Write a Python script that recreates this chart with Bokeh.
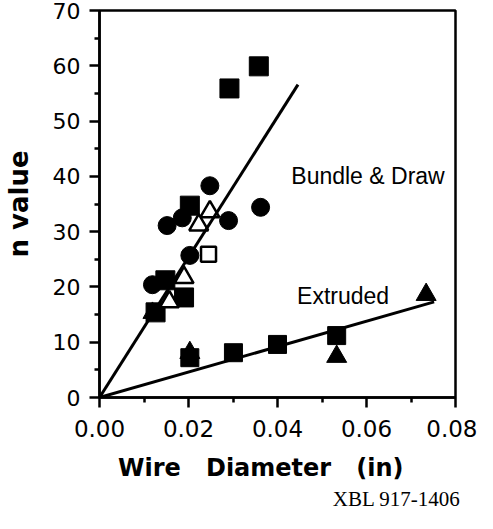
from bokeh.plotting import figure
from bokeh.models import Range1d, FixedTicker, Title
from bokeh.core.properties import value
from bokeh.embed import file_html
from bokeh.resources import INLINE

# ---- data ----
# Bundle & Draw
bd_sq_x = [0.0292, 0.0358, 0.0203, 0.0148, 0.0190, 0.0126]
bd_sq_y = [55.9, 59.9, 34.7, 21.2, 18.1, 15.4]
bd_ci_x = [0.0248, 0.0362, 0.0290, 0.0186, 0.0152, 0.0203, 0.0119]
bd_ci_y = [38.3, 34.4, 32.0, 32.5, 31.1, 25.7, 20.4]
bd_otri_x = [0.0248, 0.0223, 0.0190, 0.0157]
bd_otri_y = [33.6, 31.2, 21.7, 17.3]
bd_osq_x = [0.0245]
bd_osq_y = [25.9]
bd_tri_x = [0.0119]
bd_tri_y = [15.3]
# Extruded
ex_sq_x = [0.0203, 0.0301, 0.0400, 0.0533]
ex_sq_y = [7.2, 8.1, 9.6, 11.2]
ex_tri_x = [0.0203, 0.0533, 0.0734]
ex_tri_y = [8.1, 7.4, 18.6]
# fitted lines
bd_fit_x = [0.0, 0.0446]
bd_fit_y = [0.0, 56.6]
ex_fit_x = [0.0, 0.0752]
ex_fit_y = [0.0, 17.3]
# annotations
note_x = [0.0431, 0.0444]
note_y = [40.1, 18.4]
note_text = ["Bundle & Draw", "Extruded"]
# ticks
x_ticks = [0.0, 0.02, 0.04, 0.06, 0.08]
x_tick_labels = ["0.00", "0.02", "0.04", "0.06", "0.08"]
x_minor = [0.01, 0.03, 0.05, 0.07]
y_ticks = [0, 10, 20, 30, 40, 50, 60, 70]
y_minor = [5, 15, 25, 35, 45, 55, 65]

p = figure(width=477, height=513, output_backend="svg", toolbar_location=None,
           x_range=Range1d(0, 0.08), y_range=Range1d(0, 70),
           min_border_left=93, min_border_right=22, min_border_top=10,
           min_border_bottom=116)
p.background_fill_color = "white"
p.border_fill_color = "white"
p.xgrid.visible = False
p.ygrid.visible = False
p.outline_line_color = "black"
p.outline_line_width = 2.5

blk = "black"
p.scatter(bd_sq_x, bd_sq_y, marker="square", size=19, color=blk)
p.scatter(bd_ci_x, bd_ci_y, marker="circle", size=18, color=blk)
p.scatter(bd_tri_x, bd_tri_y, marker="triangle", size=19, color=blk)
p.scatter(bd_otri_x, bd_otri_y, marker="triangle", size=19, fill_color="white",
          line_color=blk, line_width=2.5)
p.scatter(bd_osq_x, bd_osq_y, marker="square", size=15, fill_color="white",
          line_color=blk, line_width=2.5)
p.scatter(ex_sq_x, ex_sq_y, marker="square", size=18, color=blk)
p.scatter(ex_tri_x, ex_tri_y, marker="triangle", size=20, color=blk)

p.line(bd_fit_x, bd_fit_y, line_color=blk, line_width=3)
p.line(ex_fit_x, ex_fit_y, line_color=blk, line_width=3)

p.text(note_x, note_y, text=note_text, text_font=value("Liberation Sans"),
       text_font_size="23px", text_baseline="middle", text_align="left",
       text_color=blk)

for ax in (p.xaxis[0], p.yaxis[0]):
    ax.axis_line_width = 2.5
    ax.axis_line_color = blk
    ax.major_tick_line_width = 2.5
    ax.minor_tick_line_width = 2.5
    ax.major_tick_in = 0
    ax.major_tick_out = 10
    ax.minor_tick_in = 0
    ax.minor_tick_out = 5
    ax.major_label_text_font = "DejaVu Sans"
    ax.major_label_text_color = blk
    ax.axis_label_text_font = "DejaVu Sans"
    ax.axis_label_text_font_style = "bold"
    ax.axis_label_text_color = blk

p.xaxis.ticker = FixedTicker(ticks=x_ticks, minor_ticks=x_minor)
p.xaxis.major_label_overrides = dict(zip(x_ticks, x_tick_labels))
p.xaxis.major_label_text_font_size = "23px"
p.xaxis.major_label_standoff = 12
p.xaxis.axis_label = "Wire\u00a0\u00a0\u00a0Diameter\u00a0\u00a0\u00a0(in)\u00a0\u00a0\u00a0\u00a0"
p.xaxis.axis_label_text_font_size = "24px"
p.xaxis.axis_label_standoff = 14

p.yaxis.ticker = FixedTicker(ticks=y_ticks, minor_ticks=y_minor)
p.yaxis.major_label_text_font_size = "22px"
p.yaxis.major_label_standoff = 9
p.yaxis.axis_label = "n value"
p.yaxis.axis_label_text_font_size = "26px"
p.yaxis.axis_label_standoff = 16

cap = Title(text="XBL 917-1406", align="right", text_font="Liberation Serif",
            text_font_size="21px", text_font_style="normal", text_color=blk,
            standoff=0, offset=-5)
p.add_layout(cap, "below")

open("out.html", "w").write(file_html(p, INLINE))
